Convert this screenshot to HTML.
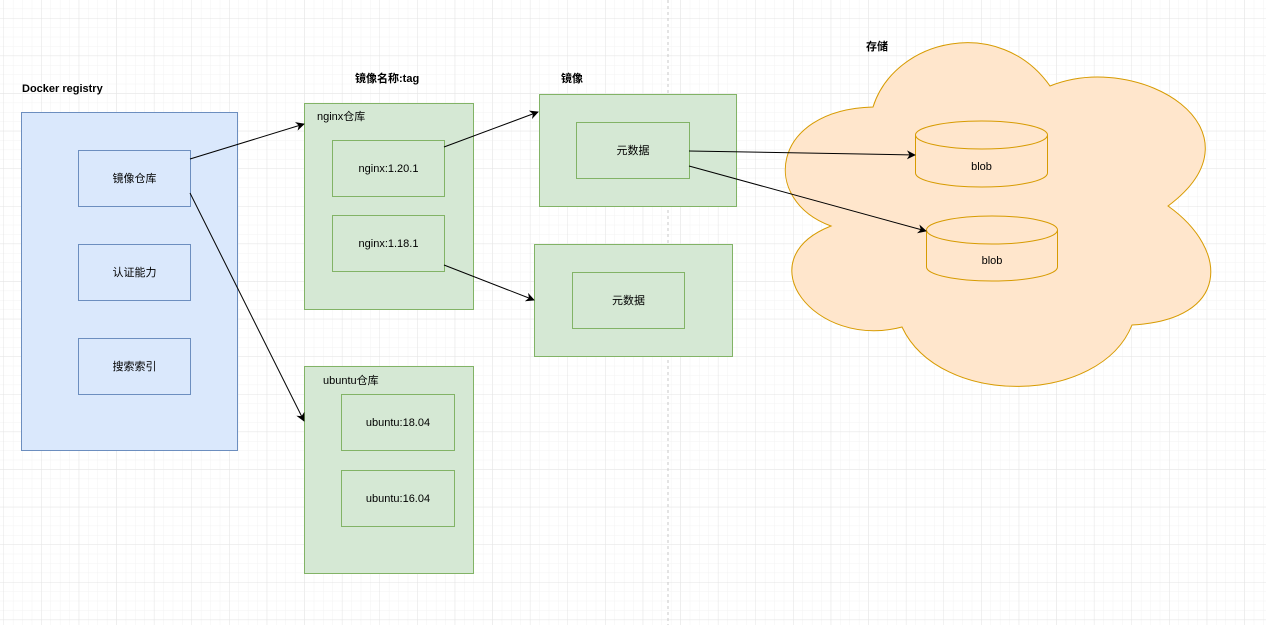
<!DOCTYPE html>
<html><head><meta charset="utf-8"><style>
html,body{margin:0;padding:0;background:#fff;}
svg{display:block;}
text{font-family:"Liberation Sans","Noto Sans CJK SC",sans-serif;font-size:11px;fill:#000;}
.b{font-weight:bold;}
</style></head><body>
<svg width="1266" height="625" viewBox="0 0 1266 625" xmlns="http://www.w3.org/2000/svg">
<defs>
<pattern id="minor" x="3.5" y="18" width="9.4" height="9.4" patternUnits="userSpaceOnUse">
<path d="M0 0H9.4M0 0V9.4" stroke="#f3f3f3" stroke-width="1" fill="none"/>
</pattern>
<pattern id="major" x="3.5" y="18" width="37.6" height="37.6" patternUnits="userSpaceOnUse">
<path d="M0 0H37.6M0 0V37.6" stroke="#e4e4e4" stroke-width="1" fill="none"/>
</pattern>
<marker id="ar" viewBox="0 0 10 10" refX="9" refY="5" markerWidth="9" markerHeight="9" orient="auto" markerUnits="userSpaceOnUse">
<path d="M0 0L10 5L0 10L3 5Z" fill="#000"/>
</marker>
</defs>
<rect width="1266" height="625" fill="url(#minor)"/>
<rect width="1266" height="625" fill="url(#major)"/>
<line x1="668" y1="0" x2="668" y2="625" stroke="#c8c8c8" stroke-dasharray="3,3"/>

<!-- cloud -->
<path d="M873 107C895 38 1000 15 1050 86C1140 50 1270 130 1168 206C1230 250 1230 320 1132 325C1100 405 940 408 902 327C815 350 745 260 831 226C760 200 770 110 873 107Z" fill="#ffe6cc" stroke="#d79b00" stroke-width="1"/>
<text x="866" y="50" class="b">存储</text>

<!-- cylinders -->
<g fill="#ffe6cc" stroke="#d79b00">
<path d="M915.5 135V173A66 14 0 0 0 1047.5 173V135"/>
<ellipse cx="981.5" cy="135" rx="66" ry="14"/>
<path d="M926.5 230V267A65.5 14 0 0 0 1057.5 267V230"/>
<ellipse cx="992" cy="230" rx="65.5" ry="14"/>
</g>
<text x="981.5" y="170" text-anchor="middle">blob</text>
<text x="992" y="264" text-anchor="middle">blob</text>

<!-- blue -->
<text x="22" y="92" class="b">Docker registry</text>
<g fill="#dae8fc" stroke="#6c8ebf">
<rect x="21.5" y="112.5" width="216" height="338"/>
<rect x="78.5" y="150.5" width="112" height="56"/>
<rect x="78.5" y="244.5" width="112" height="56"/>
<rect x="78.5" y="338.5" width="112" height="56"/>
</g>
<text x="134.5" y="182" text-anchor="middle">镜像仓库</text>
<text x="134.5" y="276" text-anchor="middle">认证能力</text>
<text x="134.5" y="370" text-anchor="middle">搜索索引</text>

<!-- green -->
<text x="355" y="82" class="b">镜像名称:tag</text>
<text x="561" y="82" class="b">镜像</text>
<g fill="#d5e8d4" stroke="#82b366">
<rect x="304.5" y="103.5" width="169" height="206"/>
<rect x="332.5" y="140.5" width="112" height="56"/>
<rect x="332.5" y="215.5" width="112" height="56"/>
<rect x="304.5" y="366.5" width="169" height="207"/>
<rect x="341.5" y="394.5" width="113" height="56"/>
<rect x="341.5" y="470.5" width="113" height="56"/>
<rect x="539.5" y="94.5" width="197" height="112"/>
<rect x="576.5" y="122.5" width="113" height="56"/>
<rect x="534.5" y="244.5" width="198" height="112"/>
<rect x="572.5" y="272.5" width="112" height="56"/>
</g>
<text x="317" y="120">nginx仓库</text>
<text x="388.5" y="172" text-anchor="middle">nginx:1.20.1</text>
<text x="388.5" y="247" text-anchor="middle">nginx:1.18.1</text>
<text x="323" y="384">ubuntu仓库</text>
<text x="398" y="426" text-anchor="middle">ubuntu:18.04</text>
<text x="398" y="502" text-anchor="middle">ubuntu:16.04</text>
<text x="633" y="154" text-anchor="middle">元数据</text>
<text x="628.5" y="304" text-anchor="middle">元数据</text>

<!-- arrows -->
<g stroke="#000" stroke-width="1" fill="none" marker-end="url(#ar)">
<line x1="190" y1="159" x2="304" y2="124"/>
<line x1="190" y1="193" x2="304" y2="421"/>
<line x1="444" y1="147" x2="538" y2="112"/>
<line x1="444" y1="265" x2="534" y2="300"/>
<line x1="689" y1="151" x2="915" y2="155"/>
<line x1="689" y1="166" x2="926" y2="231"/>
</g>
</svg>
</body></html>
